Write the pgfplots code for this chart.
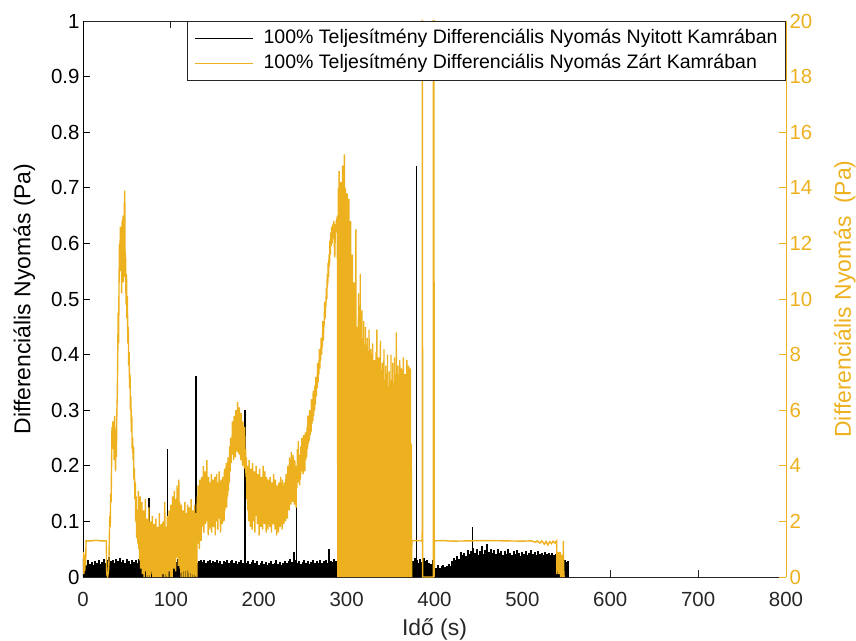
\documentclass[border=0pt]{standalone}
\usepackage{pgfplots}
\pgfplotsset{compat=1.18}
\usepackage{fontspec}
\setmainfont{Liberation Sans}
\definecolor{morange}{RGB}{237,177,32}
\definecolor{axgray}{RGB}{38,38,38}
\begin{document}
\begin{tikzpicture}
\useasboundingbox (-83bp,-64bp) rectangle (773bp,577bp);
\begin{axis}[
 scale only axis, width=703bp, height=556bp,
 xmin=0, xmax=800, ymin=0, ymax=1,
 axis y line*=left,
 xtick={0,100,200,300,400,500,600,700,800},
 ytick={0,0.1,0.2,0.3,0.4,0.5,0.6,0.7,0.8,0.9,1},
 yticklabels={0,0.1,0.2,0.3,0.4,0.5,0.6,0.7,0.8,0.9,1},
 tick align=inside, major tick length=7bp,
 xtick pos=both,
 /pgf/number format/assume math mode=true,
 tick label style={font=\fontsize{20.5}{24}\selectfont},
 x axis line style={axgray, line width=0.8bp},
 y axis line style={black, line width=0.8bp},
 xtick style={axgray, line width=0.8bp},
 ytick style={black, line width=0.8bp},
 xticklabel style={axgray, yshift=-12bp},
 yticklabel style={black},
 xlabel={Idő (s)},
 ylabel={Differenciális Nyomás (Pa)},
 label style={font=\fontsize{23}{27}\selectfont},
 xlabel style={axgray, yshift=-5bp},
 ylabel style={yshift=9bp},
]
% black bulk noise (ycomb)
\addplot[black, ycomb, line width=2bp] coordinates {
(0,0.034)(2,0.028)(4,0.022)(6,0.030)(8,0.024)(10,0.027)(12,0.021)(14,0.029)(16,0.025)(18,0.031)
(20,0.023)(22,0.027)(24,0.033)(26,0.026)(28,0.030)(30,0.036)(32,0.028)(34,0.031)(36,0.026)(38,0.033)
(40,0.029)(42,0.034)(44,0.027)(46,0.030)(48,0.025)(50,0.032)(52,0.028)(54,0.024)(56,0.031)(58,0.027)
(60,0.030)(62,0.026)(64,0.033)(66,0.029)(68,0.024)(70,0.031)(72,0.027)(74,0.030)(76,0.025)(78,0.032)
(80,0.028)(82,0.023)(84,0.029)(86,0.026)(88,0.031)(90,0.027)(92,0.024)(94,0.030)(96,0.026)(98,0.033)
(100,0.028)(102,0.025)(104,0.030)(106,0.027)(108,0.032)(110,0.026)(112,0.029)(114,0.024)(116,0.031)(118,0.027)
(120,0.023)(122,0.030)(124,0.026)(126,0.032)(128,0.028)(130,0.025)(132,0.029)(134,0.031)(136,0.027)(138,0.030)
(140,0.026)(142,0.028)(144,0.031)(146,0.025)(148,0.029)(150,0.027)(152,0.030)(154,0.026)(156,0.028)(158,0.024)
(160,0.029)(162,0.027)(164,0.031)(166,0.025)(168,0.028)(170,0.030)(172,0.026)(174,0.029)(176,0.024)(178,0.027)
(180,0.031)(182,0.026)(184,0.029)(186,0.025)(188,0.028)(190,0.023)(192,0.027)(194,0.030)(196,0.025)(198,0.028)
(200,0.022)(202,0.026)(204,0.029)(206,0.024)(208,0.027)(210,0.021)(212,0.025)(214,0.028)(216,0.023)(218,0.026)
(220,0.030)(222,0.024)(224,0.027)(226,0.022)(228,0.026)(230,0.029)(232,0.025)(234,0.028)(236,0.032)(238,0.027)
(240,0.045)(242,0.030)(244,0.026)(246,0.029)(248,0.024)(250,0.027)(252,0.031)(254,0.025)(256,0.028)(258,0.023)
(260,0.027)(262,0.030)(264,0.025)(266,0.029)(268,0.026)(270,0.031)(272,0.025)(274,0.028)(276,0.030)(278,0.026)
(280,0.050)(282,0.029)(284,0.027)(286,0.033)(288,0.028)(290,0.030)(292,0.027)(294,0.031)(296,0.026)(298,0.029)
(300,0.030)(304,0.028)(308,0.031)(312,0.027)(316,0.030)(320,0.028)(324,0.031)(328,0.027)(332,0.030)(336,0.028)
(340,0.030)(344,0.027)(348,0.031)(352,0.028)(356,0.030)(360,0.027)(364,0.031)(368,0.028)(372,0.030)(374,0.027)
(376,0.028)(378,0.034)(380,0.030)(382,0.025)(384,0.032)(386,0.027)(388,0.035)(390,0.029)(392,0.031)(394,0.026)
(396,0.024)(398,0.030)(400,0.020)(402,0.017)(404,0.021)(406,0.016)(408,0.019)(410,0.022)(412,0.018)(414,0.020)
(416,0.023)(418,0.019)(420,0.028)(422,0.034)(424,0.030)(426,0.038)(428,0.033)(430,0.045)(432,0.039)(434,0.043)
(436,0.037)(438,0.048)(440,0.041)(442,0.046)(444,0.052)(446,0.044)(448,0.050)(450,0.040)(452,0.047)(454,0.055)
(456,0.042)(458,0.049)(460,0.060)(462,0.045)(464,0.051)(466,0.043)(468,0.048)(470,0.041)(472,0.050)(474,0.044)
(476,0.046)(478,0.039)(480,0.047)(482,0.042)(484,0.051)(486,0.044)(488,0.040)(490,0.046)(492,0.042)(494,0.049)
(496,0.043)(498,0.038)(500,0.045)(502,0.041)(504,0.047)(506,0.040)(508,0.044)(510,0.048)(512,0.041)(514,0.045)
(516,0.039)(518,0.046)(520,0.042)(522,0.044)(524,0.040)(526,0.045)(528,0.041)(530,0.043)(532,0.039)(534,0.044)
(536,0.040)(538,0.042)(540,0.034)(542,0.030)(544,0.036)(546,0.028)(548,0.031)(550,0.027)(552,0.029)
};
% black spikes
\addplot[black, ycomb, line width=1.4bp] coordinates {
(75.0,0.142)(96.4,0.230)(128.6,0.361)(184.3,0.300)(243.1,0.126)(379.2,0.739)(443.4,0.090)
};
\end{axis}
\begin{axis}[
 scale only axis, width=703bp, height=556bp,
 xmin=0, xmax=800, ymin=0, ymax=20,
 axis y line*=right, axis x line=none,
 ytick={0,2,4,6,8,10,12,14,16,18,20},
 tick align=inside, major tick length=7bp,
 /pgf/number format/assume math mode=true,
 tick label style={font=\fontsize{20.5}{24}\selectfont},
 y axis line style={morange, line width=0.8bp},
 ytick style={morange, line width=0.8bp},
 yticklabel style={morange},
 ylabel={Differenciális Nyomás\ \ (Pa)},
 ylabel style={morange, font=\fontsize{23}{27}\selectfont, yshift=-15bp},
 legend cell align=left,
 legend style={at={(rel axis cs:1,1)}, anchor=north east, draw=axgray, fill=white,
   line width=0.8bp, font=\fontsize{19.6}{23}\selectfont,
   inner xsep=3bp, inner ysep=6bp, row sep=3bp,
   nodes={text height=14bp, text depth=4bp, inner ysep=2bp, inner xsep=5bp}},
 legend image code/.code={\draw[#1] (0bp,0bp) -- (58bp,0bp); \path (-4bp,0bp) (63bp,0bp);},
]
\addlegendimage{black, line width=1.3bp}
\addlegendentry{100\% Teljesítmény Differenciális Nyomás Nyitott Kamrában}
\addlegendimage{morange, line width=1.3bp}
\addlegendentry{100\% Teljesítmény Differenciális Nyomás Zárt Kamrában}
\addplot[morange, line width=1.4bp, forget plot] coordinates {
(0,0.3)(0.5,0.9)(1,0.1)(1.5,0.6)(2,0.2)(2.5,0.8)(3,0.4)(3.5,1.3)(10,1.3)(15,1.32)(20,1.3)(26.5,1.3)(27,0.1)(28,0)(29,0.2)
(29.5,0.5)(30,1.5)(30.5,2.2)(31,1.8)(31.5,3.0)(32,2.7)(32.5,4.0)(33,5.4)(33.5,4.6)(34,5.6)(34.5,4.8)(35,5.3)
(35.5,4.2)(36,5.8)(36.5,4.5)(37,3.8)(37.5,4.9)(38,4.3)(38.5,5.9)(39,6.5)(39.5,7.8)(40,9.5)(40.5,8.4)(41,10.5)
(41.5,12.0)(42,11.2)(42.5,12.6)(43,11.0)(43.5,12.4)(44,10.2)(44.5,12.8)(45,11.5)(45.5,13.0)(46,10.6)(46.5,12.3)
(47,13.2)(47.5,13.9)(48,10.8)(48.5,11.5)(49,9.8)(49.5,10.9)(50,9.3)(50.5,10.1)(51,8.4)(51.5,9.0)(52,7.6)
(52.5,8.1)(53,6.8)(53.5,7.3)(54,6.0)(54.5,6.5)(55,5.2)(55.5,5.8)(56,4.6)(56.5,5.0)(57,4.2)(57.5,4.7)(58,3.5)
(58.5,3.9)(59,2.8)(59.5,3.4)(60,2.0)(60.5,2.9)(61,1.4)(61.5,2.4)(62,2.3)(62.5,1.2)(63,3.1)(63.5,1.0)(64,2.6)
(64.5,0.6)(65,2.9)(65.5,0.3)(66,2.2)(66.5,0.9)(67,2.7)(67.5,0.1)(68,1.9)(68.5,0.5)(69,2.4)(69.5,0.0)(70,1.6)
(70.5,0.8)(71,2.8)(71.5,0.2)(72,1.4)(72.5,0.0)(73,2.1)(73.5,0.6)(74,1.7)(74.5,0.0)(75,2.5)(75.5,0.4)(76,1.3)
(76.5,0.0)(77,2.0)(77.5,0.7)(78,1.5)(78.5,0.1)(79,2.2)(79.5,0.0)(80,1.2)(80.5,0.5)(81,1.9)(81.5,0.0)(82,1.6)
(82.5,0.3)(83,2.1)(83.5,0.0)(84,1.4)(84.5,0.6)(85,1.8)(85.5,0.0)(86,1.1)(86.5,0.2)(87,2.3)(87.5,0.0)(88,1.5)
(88.5,0.4)(89,1.9)(89.5,0.0)(90,1.3)(90.5,0.7)(91,2.0)(91.5,0.1)(92,1.6)(92.5,0.0)(93,2.7)(93.5,0.5)(94,1.4)
(94.5,0.0)(95,1.8)(95.5,0.3)(96,2.2)(96.5,0.0)(97,1.5)(97.5,0.8)(98,2.4)(98.5,0.2)(99,1.9)(99.5,0.0)(100,2.6)
(100.5,0.6)(101,1.7)(101.5,0.0)(102,2.9)(102.5,0.9)(103,2.2)(103.5,0.3)(104,3.1)(104.5,1.0)(105,2.4)(105.5,0.2)
(106,2.8)(106.5,0.7)(107,3.3)(107.5,1.2)(108,2.5)(108.5,0.4)(109,3.5)(109.5,1.1)(110,2.7)(110.5,0.3)(111,2.3)
(111.5,0.0)(112,2.6)(112.5,0.8)(113,1.9)(113.5,0.0)(114,2.4)(114.5,0.5)(115,2.0)(115.5,0.0)(116,2.7)(116.5,0.9)
(117,1.8)(117.5,0.0)(118,2.3)(118.5,0.4)(119,2.6)(119.5,0.0)(120,1.9)(120.5,0.6)(121,2.5)(121.5,0.0)(122,2.1)
(122.5,0.2)(123,2.8)(123.5,0.0)(124,1.7)(124.5,0.5)(125,2.4)(125.5,0.0)(126,2.0)(126.5,0.3)(127,2.6)(127.5,0.0)
(128,1.8)(128.5,0.4)(129,2.3)(129.5,0.0)(130,2.9)(130.5,1.2)(131,3.3)(131.5,1.5)(132,3.0)(132.5,1.0)(133,3.5)
(133.5,1.6)(134,2.8)(134.5,1.3)(135,3.6)(135.5,1.8)(136,3.1)(136.5,2.2)(137,4.0)(137.5,1.6)(138,3.2)(138.5,2.4)
(139,3.8)(139.5,1.9)(140,3.3)(140.5,2.5)(141,4.2)(141.5,2.0)(142,3.0)(142.5,1.5)(143,3.6)(143.5,2.3)(144,2.9)
(144.5,1.7)(145,3.4)(145.5,2.1)(146,3.7)(146.5,1.6)(147,3.1)(147.5,2.4)(148,3.5)(148.5,1.8)(149,3.0)(149.5,2.2)
(150,3.6)(150.5,1.5)(151,3.2)(151.5,2.0)(152,3.7)(152.5,2.5)(153,3.0)(153.5,1.7)(154,3.4)(154.5,2.3)(155,3.8)
(155.5,2.1)(156,3.1)(156.5,1.6)(157,3.5)(157.5,2.4)(158,3.0)(158.5,1.9)(159,3.6)(159.5,2.6)(160,3.2)(160.5,2.0)
(161,3.9)(161.5,2.4)(162,3.3)(162.5,2.7)(163,4.1)(163.5,2.5)(164,3.6)(164.5,2.9)(165,4.3)(165.5,3.1)(166,4.0)
(166.5,3.4)(167,4.7)(167.5,3.8)(168,5.0)(168.5,4.1)(169,4.8)(169.5,4.4)(170,5.6)(170.5,4.6)(171,5.3)(171.5,4.2)
(172,5.8)(172.5,4.7)(173,5.1)(173.5,4.3)(174,6.0)(174.5,4.8)(175,5.5)(175.5,4.5)(176,6.3)(176.5,4.9)(177,5.4)
(177.5,4.4)(178,6.1)(178.5,4.6)(179,5.2)(179.5,4.2)(180,5.9)(180.5,4.7)(181,5.0)(181.5,4.0)(182,5.6)(182.5,4.4)
(183,4.9)(183.5,3.9)(184,5.4)(184.5,4.1)(185,4.6)(185.5,3.6)(186,4.3)(186.5,2.8)(187,4.0)(187.5,2.4)(188,3.6)
(188.5,2.0)(189,4.2)(189.5,2.6)(190,3.5)(190.5,1.8)(191,3.9)(191.5,2.3)(192,3.3)(192.5,1.7)(193,4.1)(193.5,2.5)
(194,3.4)(194.5,2.0)(195,3.8)(195.5,1.6)(196,3.2)(196.5,2.2)(197,4.0)(197.5,2.4)(198,3.1)(198.5,1.9)(199,3.7)
(199.5,2.1)(200,3.3)(200.5,1.5)(201,3.9)(201.5,2.3)(202,3.0)(202.5,1.8)(203,3.6)(203.5,2.6)(204,3.2)(204.5,1.7)
(205,4.0)(205.5,2.2)(206,3.4)(206.5,1.9)(207,3.8)(207.5,2.4)(208,3.1)(208.5,1.6)(209,3.6)(209.5,2.0)(210,3.0)
(210.5,1.7)(211,3.5)(211.5,2.3)(212,2.9)(212.5,1.8)(213,3.6)(213.5,2.1)(214,3.1)(214.5,1.6)(215,3.4)(215.5,2.2)
(216,2.8)(216.5,1.9)(217,3.7)(217.5,2.4)(218,3.0)(218.5,1.7)(219,3.5)(219.5,2.0)(220,2.9)(220.5,1.5)(221,3.3)
(221.5,2.2)(222,2.7)(222.5,1.6)(223,3.4)(223.5,2.1)(224,3.0)(224.5,1.8)(225,3.6)(225.5,2.3)(226,3.1)(226.5,1.7)
(227,3.5)(227.5,2.2)(228,2.9)(228.5,1.9)(229,3.4)(229.5,2.4)(230,3.0)(230.5,2.0)(231,3.7)(231.5,2.5)(232,3.3)
(232.5,2.1)(233,4.0)(233.5,2.6)(234,3.5)(234.5,2.4)(235,4.3)(235.5,2.8)(236,3.9)(236.5,2.6)(237,4.5)(237.5,3.0)
(238,4.1)(238.5,2.7)(239,4.4)(239.5,3.1)(240,3.8)(240.5,2.6)(241,4.2)(241.5,3.0)(242,3.6)(242.5,2.5)(243,4.0)
(243.5,3.2)(244,4.6)(244.5,3.4)(245,4.9)(245.5,3.6)(246,4.4)(246.5,3.3)(247,4.0)(247.5,3.5)(248,4.7)(248.5,3.8)
(249,5.0)(249.5,3.9)(250,4.5)(250.5,3.7)(251,5.1)(251.5,4.0)(252,4.6)(252.5,3.8)(253,5.2)(253.5,4.2)(254,5.0)
(254.5,4.3)(255,5.4)(255.5,4.6)(256,5.8)(256.5,4.8)(257,5.3)(257.5,4.9)(258,6.0)(258.5,5.1)(259,5.6)(259.5,5.2)
(260,6.4)(260.5,5.5)(261,6.1)(261.5,5.6)(262,6.7)(262.5,5.8)(263,6.3)(263.5,6.0)(264,6.9)(264.5,6.2)(265,7.2)
(265.5,6.5)(266,7.0)(266.5,6.8)(267,7.7)(267.5,7.0)(268,7.5)(268.5,7.3)(269,8.2)(269.5,7.5)(270,8.0)(270.5,7.8)
(271,8.6)(271.5,8.0)(272,8.4)(272.5,8.3)(273,9.2)(273.5,8.5)(274,9.0)(274.5,9.1)(275,9.9)(275.5,9.3)(276,9.7)
(276.5,9.8)(277,10.4)(277.5,10.0)(278,10.9)(278.5,10.5)(279,11.3)(279.5,10.8)(280,11.6)(280.5,11.2)(281,12.1)
(281.5,11.6)(282,12.4)(282.5,11.9)(283,12.6)(283.5,12.0)(284,12.3)(284.5,12.7)(285,12.2)(285.5,12.8)(286,12.0)
(286.5,11.5)(287,12.3)(287.5,12.7)(288,12.4)(288.5,12.9)(289,12.6)(289.5,13.0)
(290,0)(290.5,14.0)(291,0)(291.5,14.6)(292,0)(292.5,13.2)(293,0)(293.5,14.2)(294,0)(294.5,12.5)
(295,0)(295.5,14.8)(296,0)(296.5,13.6)(297,0)(297.5,15.2)(298,0)(298.5,14.0)(299,0)(299.5,12.2)
(300,0)(300.5,13.8)(301,0)(301.5,12.6)(302,0)(302.5,13.6)(303,0)(303.5,11.5)(304,0)(304.5,12.8)
(305,0)(305.5,10.4)(306,0)(306.5,11.6)(307,0)(307.5,9.2)(308,0)(308.5,10.6)(309,0)(309.5,8.4)
(310,0)(310.5,12.5)(311,0)(311.5,9.0)(312,0)(312.5,7.6)(313,0)(313.5,10.2)(314,0)(314.5,6.8)
(315,0)(315.5,10.9)(316,0)(316.5,7.2)(317,0)(317.5,9.6)(318,0)(318.5,6.2)(319,0)(319.5,9.2)
(320,0)(320.5,5.8)(321,0)(321.5,9.0)(322,0)(322.5,6.4)(323,0)(323.5,8.6)(324,0)(324.5,5.4)
(325,0)(325.5,8.9)(326,0)(326.5,5.6)(327,0)(327.5,8.2)(328,0)(328.5,4.9)(329,0)(329.5,8.4)
(330,0)(330.5,6.0)(331,0)(331.5,7.8)(332,0)(332.5,5.2)(333,0)(333.5,8.1)(334,0)(334.5,8.9)
(335,0)(335.5,4.7)(336,0)(336.5,7.9)(337,0)(337.5,5.5)(338,0)(338.5,8.5)(339,0)(339.5,4.8)
(340,0)(340.5,7.7)(341,0)(341.5,6.3)(342,0)(342.5,8.2)(343,0)(343.5,5.0)(344,0)(344.5,7.6)
(345,0)(345.5,4.6)(346,0)(346.5,8.0)(347,0)(347.5,5.9)(348,0)(348.5,7.4)(349,0)(349.5,4.9)
(350,0)(350.5,8.0)(351,0)(351.5,5.3)(352,0)(352.5,7.7)(353,0)(353.5,4.5)(354,0)(354.5,7.9)
(355,0)(355.5,5.7)(356,0)(356.5,8.8)(357,0)(357.5,4.6)(358,0)(358.5,7.6)(359,0)(359.5,5.2)
(360,0)(360.5,7.8)(361,0)(361.5,4.4)(362,0)(362.5,7.5)(363,0)(363.5,5.8)(364,0)(364.5,7.9)
(365,0)(365.5,4.7)(366,0)(366.5,7.3)(367,0)(367.5,5.1)(368,0)(368.5,7.8)(369,0)(369.5,4.5)
(370,0)(370.5,7.6)(371,0)(371.5,5.4)(372,0)(372.5,7.5)(373,0)(373.5,4.8)(374,0)
(374.2,1.3)(380,1.31)(386.0,1.3)(386.2,25)(386.5,0)(398.6,0)(398.8,25)(399.0,11.8)(399.2,25)(399.7,0)
(400.0,1.3)(410,1.31)(420,1.29)(440,1.3)(460,1.31)(480,1.3)(500,1.29)(510,1.3)(515,1.25)(517,1.3)(520,1.22)
(522,1.3)(525,1.18)(527,1.28)(529,1.15)(531,1.27)(533,1.2)(535,1.29)(537,1.22)(539,1.3)(539.3,0.1)(540,0.8)
(540.5,0.2)(541,0.9)(541.5,0.1)(542,0.7)(542.5,0.3)(543,0.9)(543.5,0.0)(544,0.6)(544.5,0.2)(545,0.8)(545.5,0.0)
(546.3,0.2)(546.6,1.3)(547,0.3)(547.5,0.0)
};
\end{axis}
\end{tikzpicture}
\end{document}
